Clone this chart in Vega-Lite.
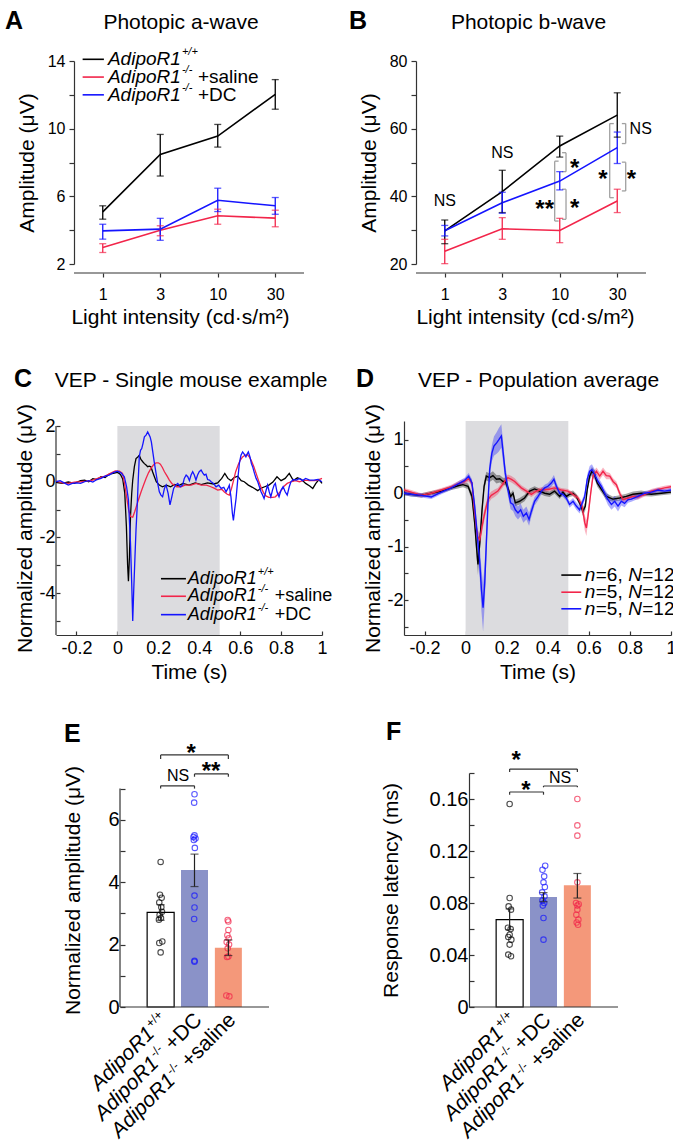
{
  "$schema": "https://vega.github.io/schema/vega-lite/v6.json",
  "padding": 0,
  "autosize": {"type": "pad"},
  "columns": 2,
  "align": "each",
  "spacing": 0,
  "config": {
    "font": "Liberation Sans",
    "view": {"stroke": null},
    "text": {"font": "Liberation Sans", "color": "#000"},
    "axis": {"grid": false, "domainColor": "#333", "tickColor": "#333", "domainWidth": 1.2, "tickWidth": 1.2, "labelColor": "#000", "titleColor": "#000", "labelFont": "Liberation Sans", "titleFont": "Liberation Sans", "titleFontWeight": "normal", "labelFlush": false, "labelOverlap": false}
  },
  "datasets": {
    "aLines": [
      {"g": "wt", "x": 0, "y": 5.08, "lo": 4.65, "hi": 5.44},
      {"g": "wt", "x": 1, "y": 8.48, "lo": 7.2, "hi": 9.66},
      {"g": "wt", "x": 2, "y": 9.56, "lo": 8.91, "hi": 10.25},
      {"g": "wt", "x": 3, "y": 12.03, "lo": 11.15, "hi": 12.9},
      {"g": "sal", "x": 0, "y": 2.98, "lo": 2.68, "hi": 3.2},
      {"g": "sal", "x": 1, "y": 4.0, "lo": 3.67, "hi": 4.26},
      {"g": "sal", "x": 2, "y": 4.85, "lo": 4.35, "hi": 5.24},
      {"g": "sal", "x": 3, "y": 4.71, "lo": 4.2, "hi": 5.18},
      {"g": "dc", "x": 0, "y": 3.96, "lo": 3.47, "hi": 4.35},
      {"g": "dc", "x": 1, "y": 4.06, "lo": 3.4, "hi": 4.7},
      {"g": "dc", "x": 2, "y": 5.77, "lo": 5.1, "hi": 6.48},
      {"g": "dc", "x": 3, "y": 5.44, "lo": 4.94, "hi": 5.93}
    ],
    "bLines": [
      {"g": "wt", "x": 0, "y": 29.8, "lo": 26.0, "hi": 33.0},
      {"g": "wt", "x": 1, "y": 41.4, "lo": 35.2, "hi": 47.7},
      {"g": "wt", "x": 2, "y": 54.9, "lo": 51.6, "hi": 57.8},
      {"g": "wt", "x": 3, "y": 64.0, "lo": 57.5, "hi": 70.6},
      {"g": "sal", "x": 0, "y": 23.8, "lo": 20.1, "hi": 27.3},
      {"g": "sal", "x": 1, "y": 30.4, "lo": 27.3, "hi": 33.7},
      {"g": "sal", "x": 2, "y": 29.9, "lo": 26.3, "hi": 33.5},
      {"g": "sal", "x": 3, "y": 38.6, "lo": 35.2, "hi": 42.1},
      {"g": "dc", "x": 0, "y": 29.8, "lo": 28.3, "hi": 31.4},
      {"g": "dc", "x": 1, "y": 38.1, "lo": 35.0, "hi": 41.2},
      {"g": "dc", "x": 2, "y": 44.5, "lo": 41.9, "hi": 47.3},
      {"g": "dc", "x": 3, "y": 54.4, "lo": 49.7, "hi": 59.0}
    ],
    "aLegend": [
      {"g": "wt", "x": -0.35, "x2": 0.02, "tx": 0.09, "y": 14.1, "name": "AdipoR1", "sup": "+/+", "suf": ""},
      {"g": "sal", "x": -0.35, "x2": 0.02, "tx": 0.09, "y": 13.05, "name": "AdipoR1", "sup": "-/-", "suf": "+saline"},
      {"g": "dc", "x": -0.35, "x2": 0.02, "tx": 0.09, "y": 12.0, "name": "AdipoR1", "sup": "-/-", "suf": "+DC"}
    ],
    "bBrackets": [
      {"x": 1.912, "xe": 1.98, "lo": 32.7, "hi": 50.4},
      {"x": 2.109, "xe": 2.04, "lo": 47.3, "hi": 52.9},
      {"x": 2.109, "xe": 2.04, "lo": 33.2, "hi": 42.1},
      {"x": 2.869, "xe": 2.94, "lo": 39.6, "hi": 61.5},
      {"x": 3.147, "xe": 3.08, "lo": 55.6, "hi": 61.5},
      {"x": 3.147, "xe": 3.08, "lo": 41.6, "hi": 50.1}
    ],
    "bNS": [
      {"x": 0, "y": 38.6, "t": "NS"},
      {"x": 1, "y": 52.9, "t": "NS"},
      {"x": 3.408, "y": 59.8, "t": "NS"}
    ],
    "bStars": [
      {"x": 1.738, "y": 37.6, "t": "**"},
      {"x": 2.26, "y": 49.95, "t": "*"},
      {"x": 2.26, "y": 38.1, "t": "*"},
      {"x": 2.752, "y": 46.5, "t": "*"},
      {"x": 3.245, "y": 46.5, "t": "*"}
    ],
    "cLegend": [
      {"g": "wt", "t": 0.213, "t2": 0.335, "tx": 0.344, "v": -3.48, "name": "AdipoR1", "sup": "+/+", "suf": ""},
      {"g": "sal", "t": 0.213, "t2": 0.335, "tx": 0.344, "v": -4.11, "name": "AdipoR1", "sup": "-/-", "suf": "+saline"},
      {"g": "dc", "t": 0.213, "t2": 0.335, "tx": 0.344, "v": -4.77, "name": "AdipoR1", "sup": "-/-", "suf": "+DC"}
    ],
    "dLegend": [
      {"g": "wt", "t": 0.466, "t2": 0.563, "tx": 0.58, "v": -1.53, "a": "n", "b": "=6,", "c": "N", "d": "=12"},
      {"g": "sal", "t": 0.466, "t2": 0.563, "tx": 0.58, "v": -1.85, "a": "n", "b": "=5,", "c": "N", "d": "=12"},
      {"g": "dc", "t": 0.466, "t2": 0.563, "tx": 0.58, "v": -2.16, "a": "n", "b": "=5,", "c": "N", "d": "=12"}
    ],
    "cTraces": [
      {"g": "wt", "t": -0.3, "v": -0.02}, {"g": "wt", "t": -0.27, "v": -0.06}, {"g": "wt", "t": -0.24, "v": -0.01}, {"g": "wt", "t": -0.21, "v": -0.06},
      {"g": "wt", "t": -0.18, "v": 0.04}, {"g": "wt", "t": -0.16, "v": 0.06}, {"g": "wt", "t": -0.14, "v": 0.0}, {"g": "wt", "t": -0.12, "v": 0.11},
      {"g": "wt", "t": -0.1, "v": 0.08}, {"g": "wt", "t": -0.08, "v": 0.18}, {"g": "wt", "t": -0.06, "v": 0.15}, {"g": "wt", "t": -0.04, "v": 0.27},
      {"g": "wt", "t": -0.02, "v": 0.3}, {"g": "wt", "t": 0.0, "v": 0.34}, {"g": "wt", "t": 0.015, "v": 0.26}, {"g": "wt", "t": 0.026, "v": 0.1},
      {"g": "wt", "t": 0.036, "v": -0.4}, {"g": "wt", "t": 0.044, "v": -1.6}, {"g": "wt", "t": 0.05, "v": -3.0}, {"g": "wt", "t": 0.054, "v": -3.57},
      {"g": "wt", "t": 0.059, "v": -2.68}, {"g": "wt", "t": 0.064, "v": -1.25}, {"g": "wt", "t": 0.07, "v": -0.42}, {"g": "wt", "t": 0.075, "v": 0.06},
      {"g": "wt", "t": 0.083, "v": 0.54}, {"g": "wt", "t": 0.091, "v": 0.83}, {"g": "wt", "t": 0.1, "v": 0.89}, {"g": "wt", "t": 0.107, "v": 0.95},
      {"g": "wt", "t": 0.115, "v": 0.8}, {"g": "wt", "t": 0.125, "v": 0.71}, {"g": "wt", "t": 0.132, "v": 0.65}, {"g": "wt", "t": 0.14, "v": 0.6},
      {"g": "wt", "t": 0.148, "v": 0.54}, {"g": "wt", "t": 0.156, "v": 0.56}, {"g": "wt", "t": 0.164, "v": 0.54}, {"g": "wt", "t": 0.172, "v": 0.36},
      {"g": "wt", "t": 0.18, "v": 0.2}, {"g": "wt", "t": 0.19, "v": 0.0}, {"g": "wt", "t": 0.205, "v": -0.12}, {"g": "wt", "t": 0.22, "v": -0.18},
      {"g": "wt", "t": 0.24, "v": -0.12}, {"g": "wt", "t": 0.26, "v": -0.18}, {"g": "wt", "t": 0.28, "v": -0.1}, {"g": "wt", "t": 0.3, "v": -0.14},
      {"g": "wt", "t": 0.32, "v": -0.06}, {"g": "wt", "t": 0.35, "v": -0.12}, {"g": "wt", "t": 0.38, "v": -0.04}, {"g": "wt", "t": 0.41, "v": -0.1},
      {"g": "wt", "t": 0.44, "v": -0.04}, {"g": "wt", "t": 0.47, "v": -0.08}, {"g": "wt", "t": 0.49, "v": -0.04}, {"g": "wt", "t": 0.51, "v": 0.12},
      {"g": "wt", "t": 0.525, "v": 0.3}, {"g": "wt", "t": 0.54, "v": 0.12}, {"g": "wt", "t": 0.555, "v": 0.04}, {"g": "wt", "t": 0.57, "v": 0.15},
      {"g": "wt", "t": 0.588, "v": 0.2}, {"g": "wt", "t": 0.605, "v": 0.04}, {"g": "wt", "t": 0.62, "v": 0.0}, {"g": "wt", "t": 0.64, "v": -0.12},
      {"g": "wt", "t": 0.66, "v": -0.2}, {"g": "wt", "t": 0.686, "v": -0.32}, {"g": "wt", "t": 0.7, "v": -0.24}, {"g": "wt", "t": 0.72, "v": -0.18},
      {"g": "wt", "t": 0.74, "v": -0.12}, {"g": "wt", "t": 0.76, "v": -0.01}, {"g": "wt", "t": 0.78, "v": 0.18}, {"g": "wt", "t": 0.8, "v": 0.04},
      {"g": "wt", "t": 0.82, "v": 0.12}, {"g": "wt", "t": 0.84, "v": 0.3}, {"g": "wt", "t": 0.86, "v": 0.04}, {"g": "wt", "t": 0.88, "v": 0.14},
      {"g": "wt", "t": 0.9, "v": 0.08}, {"g": "wt", "t": 0.92, "v": -0.06}, {"g": "wt", "t": 0.94, "v": -0.15}, {"g": "wt", "t": 0.955, "v": -0.24},
      {"g": "wt", "t": 0.97, "v": -0.06}, {"g": "wt", "t": 0.985, "v": 0.08}, {"g": "wt", "t": 1.0, "v": -0.06},
      {"g": "sal", "t": -0.3, "v": 0.02}, {"g": "sal", "t": -0.27, "v": -0.04}, {"g": "sal", "t": -0.24, "v": -0.06}, {"g": "sal", "t": -0.21, "v": -0.01},
      {"g": "sal", "t": -0.18, "v": 0.0}, {"g": "sal", "t": -0.15, "v": 0.02}, {"g": "sal", "t": -0.12, "v": 0.06}, {"g": "sal", "t": -0.09, "v": 0.14},
      {"g": "sal", "t": -0.06, "v": 0.2}, {"g": "sal", "t": -0.03, "v": 0.32}, {"g": "sal", "t": -0.01, "v": 0.39}, {"g": "sal", "t": 0.01, "v": 0.38},
      {"g": "sal", "t": 0.025, "v": 0.3}, {"g": "sal", "t": 0.035, "v": -0.06}, {"g": "sal", "t": 0.045, "v": -0.54}, {"g": "sal", "t": 0.055, "v": -1.01},
      {"g": "sal", "t": 0.064, "v": -1.25}, {"g": "sal", "t": 0.075, "v": -1.27}, {"g": "sal", "t": 0.085, "v": -1.07}, {"g": "sal", "t": 0.095, "v": -0.83},
      {"g": "sal", "t": 0.105, "v": -0.6}, {"g": "sal", "t": 0.116, "v": -0.36}, {"g": "sal", "t": 0.128, "v": -0.12}, {"g": "sal", "t": 0.14, "v": 0.12},
      {"g": "sal", "t": 0.152, "v": 0.32}, {"g": "sal", "t": 0.164, "v": 0.48}, {"g": "sal", "t": 0.176, "v": 0.6}, {"g": "sal", "t": 0.189, "v": 0.68},
      {"g": "sal", "t": 0.2, "v": 0.68}, {"g": "sal", "t": 0.21, "v": 0.63}, {"g": "sal", "t": 0.22, "v": 0.51}, {"g": "sal", "t": 0.23, "v": 0.36},
      {"g": "sal", "t": 0.243, "v": 0.2}, {"g": "sal", "t": 0.254, "v": 0.06}, {"g": "sal", "t": 0.266, "v": -0.06}, {"g": "sal", "t": 0.278, "v": -0.12},
      {"g": "sal", "t": 0.29, "v": -0.18}, {"g": "sal", "t": 0.311, "v": -0.18}, {"g": "sal", "t": 0.33, "v": -0.12}, {"g": "sal", "t": 0.36, "v": -0.12},
      {"g": "sal", "t": 0.385, "v": -0.06}, {"g": "sal", "t": 0.41, "v": -0.12}, {"g": "sal", "t": 0.435, "v": -0.12}, {"g": "sal", "t": 0.457, "v": -0.18},
      {"g": "sal", "t": 0.475, "v": -0.24}, {"g": "sal", "t": 0.49, "v": -0.3}, {"g": "sal", "t": 0.51, "v": -0.27}, {"g": "sal", "t": 0.523, "v": -0.37},
      {"g": "sal", "t": 0.537, "v": -0.45}, {"g": "sal", "t": 0.547, "v": -0.48}, {"g": "sal", "t": 0.558, "v": -0.24}, {"g": "sal", "t": 0.568, "v": 0.06},
      {"g": "sal", "t": 0.578, "v": 0.36}, {"g": "sal", "t": 0.59, "v": 0.6}, {"g": "sal", "t": 0.6, "v": 0.77}, {"g": "sal", "t": 0.612, "v": 0.89},
      {"g": "sal", "t": 0.623, "v": 0.95}, {"g": "sal", "t": 0.634, "v": 0.98}, {"g": "sal", "t": 0.645, "v": 0.89}, {"g": "sal", "t": 0.655, "v": 0.75},
      {"g": "sal", "t": 0.667, "v": 0.54}, {"g": "sal", "t": 0.678, "v": 0.3}, {"g": "sal", "t": 0.69, "v": 0.04}, {"g": "sal", "t": 0.702, "v": -0.2},
      {"g": "sal", "t": 0.714, "v": -0.39}, {"g": "sal", "t": 0.726, "v": -0.51}, {"g": "sal", "t": 0.74, "v": -0.56}, {"g": "sal", "t": 0.759, "v": -0.56},
      {"g": "sal", "t": 0.772, "v": -0.54}, {"g": "sal", "t": 0.783, "v": -0.46}, {"g": "sal", "t": 0.8, "v": -0.32}, {"g": "sal", "t": 0.816, "v": -0.15},
      {"g": "sal", "t": 0.83, "v": -0.06}, {"g": "sal", "t": 0.848, "v": 0.0}, {"g": "sal", "t": 0.87, "v": 0.04}, {"g": "sal", "t": 0.89, "v": 0.0},
      {"g": "sal", "t": 0.914, "v": 0.06}, {"g": "sal", "t": 0.94, "v": 0.04}, {"g": "sal", "t": 0.963, "v": 0.04}, {"g": "sal", "t": 0.98, "v": 0.06},
      {"g": "sal", "t": 1.0, "v": 0.12},
      {"g": "dc", "t": -0.3, "v": 0.0}, {"g": "dc", "t": -0.28, "v": 0.04}, {"g": "dc", "t": -0.26, "v": -0.04}, {"g": "dc", "t": -0.24, "v": -0.12},
      {"g": "dc", "t": -0.22, "v": -0.06}, {"g": "dc", "t": -0.2, "v": -0.04}, {"g": "dc", "t": -0.18, "v": -0.06}, {"g": "dc", "t": -0.16, "v": 0.0},
      {"g": "dc", "t": -0.14, "v": 0.04}, {"g": "dc", "t": -0.12, "v": -0.01}, {"g": "dc", "t": -0.1, "v": 0.08}, {"g": "dc", "t": -0.08, "v": 0.12},
      {"g": "dc", "t": -0.06, "v": 0.2}, {"g": "dc", "t": -0.04, "v": 0.24}, {"g": "dc", "t": -0.02, "v": 0.33}, {"g": "dc", "t": 0.0, "v": 0.38},
      {"g": "dc", "t": 0.018, "v": 0.32}, {"g": "dc", "t": 0.034, "v": 0.18}, {"g": "dc", "t": 0.045, "v": -0.18}, {"g": "dc", "t": 0.054, "v": -0.65},
      {"g": "dc", "t": 0.064, "v": -2.2}, {"g": "dc", "t": 0.07, "v": -3.63}, {"g": "dc", "t": 0.075, "v": -5.0}, {"g": "dc", "t": 0.08, "v": -3.87},
      {"g": "dc", "t": 0.086, "v": -2.68}, {"g": "dc", "t": 0.091, "v": -1.73}, {"g": "dc", "t": 0.096, "v": -1.01}, {"g": "dc", "t": 0.102, "v": 0.06},
      {"g": "dc", "t": 0.107, "v": 0.89}, {"g": "dc", "t": 0.113, "v": 1.13}, {"g": "dc", "t": 0.119, "v": 1.19}, {"g": "dc", "t": 0.125, "v": 1.37},
      {"g": "dc", "t": 0.132, "v": 1.61}, {"g": "dc", "t": 0.14, "v": 1.67}, {"g": "dc", "t": 0.148, "v": 1.79}, {"g": "dc", "t": 0.154, "v": 1.7},
      {"g": "dc", "t": 0.16, "v": 1.61}, {"g": "dc", "t": 0.166, "v": 1.43}, {"g": "dc", "t": 0.173, "v": 1.07}, {"g": "dc", "t": 0.18, "v": 0.71},
      {"g": "dc", "t": 0.189, "v": 0.3}, {"g": "dc", "t": 0.197, "v": -0.06}, {"g": "dc", "t": 0.205, "v": -0.36}, {"g": "dc", "t": 0.213, "v": -0.48},
      {"g": "dc", "t": 0.221, "v": -0.54}, {"g": "dc", "t": 0.23, "v": -0.24}, {"g": "dc", "t": 0.238, "v": -0.12}, {"g": "dc", "t": 0.248, "v": -0.42},
      {"g": "dc", "t": 0.257, "v": -0.83}, {"g": "dc", "t": 0.266, "v": -0.54}, {"g": "dc", "t": 0.275, "v": -0.24}, {"g": "dc", "t": 0.285, "v": -0.12},
      {"g": "dc", "t": 0.295, "v": -0.06}, {"g": "dc", "t": 0.307, "v": -0.18}, {"g": "dc", "t": 0.319, "v": -0.12}, {"g": "dc", "t": 0.327, "v": 0.12},
      {"g": "dc", "t": 0.336, "v": 0.24}, {"g": "dc", "t": 0.344, "v": 0.18}, {"g": "dc", "t": 0.352, "v": 0.04}, {"g": "dc", "t": 0.36, "v": 0.24},
      {"g": "dc", "t": 0.368, "v": 0.36}, {"g": "dc", "t": 0.376, "v": 0.24}, {"g": "dc", "t": 0.384, "v": 0.06}, {"g": "dc", "t": 0.392, "v": 0.24},
      {"g": "dc", "t": 0.4, "v": 0.36}, {"g": "dc", "t": 0.409, "v": 0.42}, {"g": "dc", "t": 0.417, "v": 0.32}, {"g": "dc", "t": 0.425, "v": 0.24},
      {"g": "dc", "t": 0.433, "v": 0.27}, {"g": "dc", "t": 0.441, "v": 0.08}, {"g": "dc", "t": 0.45, "v": 0.06}, {"g": "dc", "t": 0.458, "v": 0.0},
      {"g": "dc", "t": 0.47, "v": -0.06}, {"g": "dc", "t": 0.482, "v": -0.18}, {"g": "dc", "t": 0.495, "v": -0.12}, {"g": "dc", "t": 0.507, "v": -0.24},
      {"g": "dc", "t": 0.52, "v": -0.2}, {"g": "dc", "t": 0.531, "v": -0.36}, {"g": "dc", "t": 0.54, "v": -0.24}, {"g": "dc", "t": 0.547, "v": -0.12},
      {"g": "dc", "t": 0.555, "v": -0.54}, {"g": "dc", "t": 0.562, "v": -1.13}, {"g": "dc", "t": 0.567, "v": -1.39}, {"g": "dc", "t": 0.573, "v": -1.01},
      {"g": "dc", "t": 0.58, "v": -0.6}, {"g": "dc", "t": 0.588, "v": 0.06}, {"g": "dc", "t": 0.596, "v": 0.65}, {"g": "dc", "t": 0.604, "v": 0.95},
      {"g": "dc", "t": 0.612, "v": 1.07}, {"g": "dc", "t": 0.62, "v": 0.99}, {"g": "dc", "t": 0.628, "v": 0.89}, {"g": "dc", "t": 0.634, "v": 0.99},
      {"g": "dc", "t": 0.64, "v": 1.07}, {"g": "dc", "t": 0.648, "v": 0.89}, {"g": "dc", "t": 0.655, "v": 0.65}, {"g": "dc", "t": 0.661, "v": 0.54},
      {"g": "dc", "t": 0.67, "v": 0.3}, {"g": "dc", "t": 0.678, "v": 0.12}, {"g": "dc", "t": 0.686, "v": 0.0}, {"g": "dc", "t": 0.694, "v": -0.18},
      {"g": "dc", "t": 0.702, "v": -0.36}, {"g": "dc", "t": 0.71, "v": -0.48}, {"g": "dc", "t": 0.717, "v": -0.6}, {"g": "dc", "t": 0.725, "v": -0.36},
      {"g": "dc", "t": 0.734, "v": -0.12}, {"g": "dc", "t": 0.742, "v": -0.36}, {"g": "dc", "t": 0.75, "v": -0.54}, {"g": "dc", "t": 0.758, "v": -0.3},
      {"g": "dc", "t": 0.766, "v": -0.12}, {"g": "dc", "t": 0.772, "v": -0.06}, {"g": "dc", "t": 0.78, "v": -0.36}, {"g": "dc", "t": 0.79, "v": -0.54},
      {"g": "dc", "t": 0.8, "v": -0.3}, {"g": "dc", "t": 0.81, "v": -0.18}, {"g": "dc", "t": 0.82, "v": -0.36}, {"g": "dc", "t": 0.83, "v": -0.48},
      {"g": "dc", "t": 0.84, "v": -0.18}, {"g": "dc", "t": 0.848, "v": 0.0}, {"g": "dc", "t": 0.86, "v": 0.08}, {"g": "dc", "t": 0.875, "v": 0.06},
      {"g": "dc", "t": 0.89, "v": 0.12}, {"g": "dc", "t": 0.905, "v": 0.04}, {"g": "dc", "t": 0.92, "v": 0.12}, {"g": "dc", "t": 0.94, "v": 0.06},
      {"g": "dc", "t": 0.96, "v": 0.06}, {"g": "dc", "t": 0.98, "v": 0.08}, {"g": "dc", "t": 1.0, "v": 0.0}
    ],
    "dTraces": [
      {"g": "wt", "t": -0.3, "v": 0, "lo": -0.04, "hi": 0.04}, {"g": "wt", "t": -0.265, "v": -0.02, "lo": -0.06, "hi": 0.02},
      {"g": "wt", "t": -0.216, "v": -0.04, "lo": -0.08, "hi": 0}, {"g": "wt", "t": -0.167, "v": 0, "lo": -0.04, "hi": 0.04},
      {"g": "wt", "t": -0.118, "v": 0.04, "lo": 0, "hi": 0.08}, {"g": "wt", "t": -0.07, "v": 0.1, "lo": 0.06, "hi": 0.14},
      {"g": "wt", "t": -0.037, "v": 0.14, "lo": 0.09, "hi": 0.19}, {"g": "wt", "t": -0.013, "v": 0.16, "lo": 0.11, "hi": 0.21},
      {"g": "wt", "t": 0.012, "v": 0.13, "lo": 0.08, "hi": 0.18}, {"g": "wt", "t": 0.031, "v": -0.06, "lo": -0.14, "hi": 0.02},
      {"g": "wt", "t": 0.044, "v": -0.55, "lo": -0.67, "hi": -0.43}, {"g": "wt", "t": 0.054, "v": -1.05, "lo": -1.23, "hi": -0.87},
      {"g": "wt", "t": 0.06, "v": -1.33, "lo": -1.53, "hi": -1.13}, {"g": "wt", "t": 0.069, "v": -0.93, "lo": -1.11, "hi": -0.75},
      {"g": "wt", "t": 0.08, "v": -0.31, "lo": -0.43, "hi": -0.19}, {"g": "wt", "t": 0.09, "v": 0.13, "lo": 0.03, "hi": 0.23},
      {"g": "wt", "t": 0.101, "v": 0.32, "lo": 0.24, "hi": 0.4}, {"g": "wt", "t": 0.117, "v": 0.29, "lo": 0.21, "hi": 0.37},
      {"g": "wt", "t": 0.133, "v": 0.33, "lo": 0.25, "hi": 0.41}, {"g": "wt", "t": 0.15, "v": 0.26, "lo": 0.18, "hi": 0.34},
      {"g": "wt", "t": 0.166, "v": 0.27, "lo": 0.2, "hi": 0.34}, {"g": "wt", "t": 0.182, "v": 0.22, "lo": 0.15, "hi": 0.29},
      {"g": "wt", "t": 0.193, "v": 0.22, "lo": 0.15, "hi": 0.29}, {"g": "wt", "t": 0.206, "v": 0.1, "lo": 0.03, "hi": 0.17},
      {"g": "wt", "t": 0.219, "v": -0.06, "lo": -0.12, "hi": 0}, {"g": "wt", "t": 0.231, "v": 0, "lo": -0.06, "hi": 0.06},
      {"g": "wt", "t": 0.242, "v": -0.18, "lo": -0.24, "hi": -0.12}, {"g": "wt", "t": 0.263, "v": -0.15, "lo": -0.21, "hi": -0.09},
      {"g": "wt", "t": 0.287, "v": -0.09, "lo": -0.15, "hi": -0.03}, {"g": "wt", "t": 0.312, "v": 0.04, "lo": -0.01, "hi": 0.09},
      {"g": "wt", "t": 0.336, "v": 0.08, "lo": 0.03, "hi": 0.13}, {"g": "wt", "t": 0.36, "v": 0.04, "lo": -0.01, "hi": 0.09},
      {"g": "wt", "t": 0.385, "v": 0, "lo": -0.05, "hi": 0.05}, {"g": "wt", "t": 0.409, "v": -0.02, "lo": -0.07, "hi": 0.03},
      {"g": "wt", "t": 0.433, "v": 0.04, "lo": -0.01, "hi": 0.09}, {"g": "wt", "t": 0.458, "v": -0.06, "lo": -0.11, "hi": -0.01},
      {"g": "wt", "t": 0.474, "v": 0.02, "lo": -0.03, "hi": 0.07}, {"g": "wt", "t": 0.49, "v": -0.06, "lo": -0.11, "hi": -0.01},
      {"g": "wt", "t": 0.506, "v": -0.02, "lo": -0.07, "hi": 0.03}, {"g": "wt", "t": 0.523, "v": 0, "lo": -0.05, "hi": 0.05},
      {"g": "wt", "t": 0.539, "v": -0.06, "lo": -0.11, "hi": -0.01}, {"g": "wt", "t": 0.555, "v": -0.18, "lo": -0.24, "hi": -0.12},
      {"g": "wt", "t": 0.571, "v": -0.34, "lo": -0.42, "hi": -0.26}, {"g": "wt", "t": 0.583, "v": -0.24, "lo": -0.32, "hi": -0.16},
      {"g": "wt", "t": 0.592, "v": 0.07, "lo": -0.01, "hi": 0.15}, {"g": "wt", "t": 0.604, "v": 0.32, "lo": 0.24, "hi": 0.4},
      {"g": "wt", "t": 0.615, "v": 0.41, "lo": 0.33, "hi": 0.49}, {"g": "wt", "t": 0.628, "v": 0.35, "lo": 0.27, "hi": 0.43},
      {"g": "wt", "t": 0.641, "v": 0.19, "lo": 0.12, "hi": 0.26}, {"g": "wt", "t": 0.661, "v": 0.07, "lo": 0.01, "hi": 0.13},
      {"g": "wt", "t": 0.685, "v": -0.06, "lo": -0.12, "hi": 0}, {"g": "wt", "t": 0.717, "v": -0.11, "lo": -0.16, "hi": -0.06},
      {"g": "wt", "t": 0.75, "v": -0.09, "lo": -0.14, "hi": -0.04}, {"g": "wt", "t": 0.782, "v": -0.06, "lo": -0.11, "hi": -0.01},
      {"g": "wt", "t": 0.815, "v": -0.02, "lo": -0.07, "hi": 0.03}, {"g": "wt", "t": 0.855, "v": 0, "lo": -0.05, "hi": 0.05},
      {"g": "wt", "t": 0.904, "v": -0.02, "lo": -0.06, "hi": 0.02}, {"g": "wt", "t": 0.953, "v": 0, "lo": -0.04, "hi": 0.04},
      {"g": "wt", "t": 1.0, "v": 0.02, "lo": -0.02, "hi": 0.06},
      {"g": "sal", "t": -0.3, "v": 0.06, "lo": 0.02, "hi": 0.1}, {"g": "sal", "t": -0.265, "v": 0.02, "lo": -0.02, "hi": 0.06},
      {"g": "sal", "t": -0.216, "v": -0.04, "lo": -0.08, "hi": 0}, {"g": "sal", "t": -0.167, "v": 0, "lo": -0.04, "hi": 0.04},
      {"g": "sal", "t": -0.118, "v": 0.06, "lo": 0.02, "hi": 0.1}, {"g": "sal", "t": -0.07, "v": 0.12, "lo": 0.08, "hi": 0.16},
      {"g": "sal", "t": -0.029, "v": 0.19, "lo": 0.14, "hi": 0.24}, {"g": "sal", "t": -0.005, "v": 0.22, "lo": 0.17, "hi": 0.27},
      {"g": "sal", "t": 0.015, "v": 0.27, "lo": 0.22, "hi": 0.32}, {"g": "sal", "t": 0.031, "v": 0.19, "lo": 0.13, "hi": 0.25},
      {"g": "sal", "t": 0.044, "v": -0.37, "lo": -0.47, "hi": -0.27}, {"g": "sal", "t": 0.057, "v": -0.8, "lo": -0.92, "hi": -0.68},
      {"g": "sal", "t": 0.069, "v": -0.87, "lo": -0.99, "hi": -0.75}, {"g": "sal", "t": 0.08, "v": -0.62, "lo": -0.74, "hi": -0.5},
      {"g": "sal", "t": 0.093, "v": -0.37, "lo": -0.47, "hi": -0.27}, {"g": "sal", "t": 0.109, "v": -0.12, "lo": -0.2, "hi": -0.04},
      {"g": "sal", "t": 0.125, "v": -0.04, "lo": -0.11, "hi": 0.03}, {"g": "sal", "t": 0.141, "v": 0, "lo": -0.07, "hi": 0.07},
      {"g": "sal", "t": 0.157, "v": 0.04, "lo": -0.02, "hi": 0.1}, {"g": "sal", "t": 0.174, "v": 0.13, "lo": 0.07, "hi": 0.19},
      {"g": "sal", "t": 0.19, "v": 0.22, "lo": 0.16, "hi": 0.28}, {"g": "sal", "t": 0.206, "v": 0.29, "lo": 0.23, "hi": 0.35},
      {"g": "sal", "t": 0.223, "v": 0.26, "lo": 0.2, "hi": 0.32}, {"g": "sal", "t": 0.239, "v": 0.22, "lo": 0.16, "hi": 0.28},
      {"g": "sal", "t": 0.255, "v": 0.16, "lo": 0.11, "hi": 0.21}, {"g": "sal", "t": 0.271, "v": 0.1, "lo": 0.05, "hi": 0.15},
      {"g": "sal", "t": 0.296, "v": 0.04, "lo": -0.01, "hi": 0.09}, {"g": "sal", "t": 0.32, "v": -0.02, "lo": -0.07, "hi": 0.03},
      {"g": "sal", "t": 0.344, "v": 0.04, "lo": -0.01, "hi": 0.09}, {"g": "sal", "t": 0.369, "v": 0.07, "lo": 0.03, "hi": 0.11},
      {"g": "sal", "t": 0.401, "v": 0.07, "lo": 0.03, "hi": 0.11}, {"g": "sal", "t": 0.433, "v": 0.1, "lo": 0.06, "hi": 0.14},
      {"g": "sal", "t": 0.466, "v": 0.06, "lo": 0.02, "hi": 0.1}, {"g": "sal", "t": 0.498, "v": 0.04, "lo": 0, "hi": 0.08},
      {"g": "sal", "t": 0.523, "v": -0.02, "lo": -0.06, "hi": 0.02}, {"g": "sal", "t": 0.547, "v": -0.09, "lo": -0.14, "hi": -0.04},
      {"g": "sal", "t": 0.567, "v": -0.24, "lo": -0.32, "hi": -0.16}, {"g": "sal", "t": 0.58, "v": -0.55, "lo": -0.69, "hi": -0.41},
      {"g": "sal", "t": 0.588, "v": -0.65, "lo": -0.8, "hi": -0.5}, {"g": "sal", "t": 0.596, "v": -0.43, "lo": -0.55, "hi": -0.31},
      {"g": "sal", "t": 0.609, "v": 0, "lo": -0.08, "hi": 0.08}, {"g": "sal", "t": 0.62, "v": 0.32, "lo": 0.25, "hi": 0.39},
      {"g": "sal", "t": 0.637, "v": 0.41, "lo": 0.34, "hi": 0.48}, {"g": "sal", "t": 0.653, "v": 0.32, "lo": 0.25, "hi": 0.39},
      {"g": "sal", "t": 0.669, "v": 0.41, "lo": 0.34, "hi": 0.48}, {"g": "sal", "t": 0.685, "v": 0.33, "lo": 0.26, "hi": 0.4},
      {"g": "sal", "t": 0.702, "v": 0.32, "lo": 0.26, "hi": 0.38}, {"g": "sal", "t": 0.718, "v": 0.22, "lo": 0.16, "hi": 0.28},
      {"g": "sal", "t": 0.734, "v": 0.16, "lo": 0.1, "hi": 0.22}, {"g": "sal", "t": 0.75, "v": 0, "lo": -0.06, "hi": 0.06},
      {"g": "sal", "t": 0.766, "v": -0.12, "lo": -0.18, "hi": -0.06}, {"g": "sal", "t": 0.791, "v": -0.09, "lo": -0.14, "hi": -0.04},
      {"g": "sal", "t": 0.815, "v": -0.06, "lo": -0.11, "hi": -0.01}, {"g": "sal", "t": 0.839, "v": -0.07, "lo": -0.12, "hi": -0.02},
      {"g": "sal", "t": 0.872, "v": -0.02, "lo": -0.06, "hi": 0.02}, {"g": "sal", "t": 0.904, "v": 0.04, "lo": 0, "hi": 0.08},
      {"g": "sal", "t": 0.937, "v": 0.07, "lo": 0.03, "hi": 0.11}, {"g": "sal", "t": 0.969, "v": 0.1, "lo": 0.06, "hi": 0.14},
      {"g": "sal", "t": 1.0, "v": 0.12, "lo": 0.08, "hi": 0.16},
      {"g": "dc", "t": -0.3, "v": 0, "lo": -0.04, "hi": 0.04}, {"g": "dc", "t": -0.265, "v": -0.02, "lo": -0.06, "hi": 0.02},
      {"g": "dc", "t": -0.216, "v": -0.04, "lo": -0.08, "hi": 0}, {"g": "dc", "t": -0.167, "v": -0.07, "lo": -0.11, "hi": -0.03},
      {"g": "dc", "t": -0.118, "v": 0.02, "lo": -0.02, "hi": 0.06}, {"g": "dc", "t": -0.07, "v": 0.1, "lo": 0.06, "hi": 0.14},
      {"g": "dc", "t": -0.029, "v": 0.19, "lo": 0.14, "hi": 0.24}, {"g": "dc", "t": -0.005, "v": 0.24, "lo": 0.19, "hi": 0.29},
      {"g": "dc", "t": 0.015, "v": 0.32, "lo": 0.26, "hi": 0.38}, {"g": "dc", "t": 0.031, "v": 0.19, "lo": 0.12, "hi": 0.26},
      {"g": "dc", "t": 0.044, "v": -0.24, "lo": -0.36, "hi": -0.12}, {"g": "dc", "t": 0.057, "v": -0.8, "lo": -1.0, "hi": -0.6},
      {"g": "dc", "t": 0.069, "v": -1.3, "lo": -1.6, "hi": -1.0}, {"g": "dc", "t": 0.077, "v": -1.8, "lo": -2.2, "hi": -1.4},
      {"g": "dc", "t": 0.085, "v": -2.14, "lo": -2.59, "hi": -1.69}, {"g": "dc", "t": 0.093, "v": -1.68, "lo": -2.08, "hi": -1.28},
      {"g": "dc", "t": 0.101, "v": -0.93, "lo": -1.23, "hi": -0.63}, {"g": "dc", "t": 0.109, "v": -0.18, "lo": -0.38, "hi": 0.02},
      {"g": "dc", "t": 0.117, "v": 0.44, "lo": 0.29, "hi": 0.59}, {"g": "dc", "t": 0.128, "v": 0.75, "lo": 0.6, "hi": 0.9},
      {"g": "dc", "t": 0.138, "v": 0.88, "lo": 0.7, "hi": 1.06}, {"g": "dc", "t": 0.151, "v": 0.94, "lo": 0.74, "hi": 1.14},
      {"g": "dc", "t": 0.162, "v": 1.0, "lo": 0.78, "hi": 1.22}, {"g": "dc", "t": 0.174, "v": 1.07, "lo": 0.85, "hi": 1.29},
      {"g": "dc", "t": 0.183, "v": 0.75, "lo": 0.55, "hi": 0.95}, {"g": "dc", "t": 0.193, "v": 0.38, "lo": 0.23, "hi": 0.53},
      {"g": "dc", "t": 0.206, "v": 0.07, "lo": -0.05, "hi": 0.19}, {"g": "dc", "t": 0.219, "v": -0.18, "lo": -0.3, "hi": -0.06},
      {"g": "dc", "t": 0.231, "v": -0.21, "lo": -0.33, "hi": -0.09}, {"g": "dc", "t": 0.242, "v": -0.31, "lo": -0.43, "hi": -0.19},
      {"g": "dc", "t": 0.255, "v": -0.37, "lo": -0.49, "hi": -0.25}, {"g": "dc", "t": 0.268, "v": -0.31, "lo": -0.43, "hi": -0.19},
      {"g": "dc", "t": 0.281, "v": -0.43, "lo": -0.55, "hi": -0.31}, {"g": "dc", "t": 0.296, "v": -0.37, "lo": -0.49, "hi": -0.25},
      {"g": "dc", "t": 0.309, "v": -0.49, "lo": -0.61, "hi": -0.37}, {"g": "dc", "t": 0.32, "v": -0.34, "lo": -0.44, "hi": -0.24},
      {"g": "dc", "t": 0.336, "v": -0.15, "lo": -0.23, "hi": -0.07}, {"g": "dc", "t": 0.353, "v": -0.06, "lo": -0.13, "hi": 0.01},
      {"g": "dc", "t": 0.369, "v": 0.04, "lo": -0.02, "hi": 0.1}, {"g": "dc", "t": 0.385, "v": 0.1, "lo": 0.04, "hi": 0.16},
      {"g": "dc", "t": 0.401, "v": 0.13, "lo": 0.07, "hi": 0.19}, {"g": "dc", "t": 0.417, "v": 0.19, "lo": 0.12, "hi": 0.26},
      {"g": "dc", "t": 0.43, "v": 0.26, "lo": 0.18, "hi": 0.34}, {"g": "dc", "t": 0.442, "v": 0.13, "lo": 0.06, "hi": 0.2},
      {"g": "dc", "t": 0.458, "v": 0, "lo": -0.06, "hi": 0.06}, {"g": "dc", "t": 0.474, "v": -0.02, "lo": -0.07, "hi": 0.03},
      {"g": "dc", "t": 0.49, "v": -0.09, "lo": -0.14, "hi": -0.04}, {"g": "dc", "t": 0.506, "v": -0.21, "lo": -0.27, "hi": -0.15},
      {"g": "dc", "t": 0.523, "v": -0.15, "lo": -0.21, "hi": -0.09}, {"g": "dc", "t": 0.539, "v": -0.24, "lo": -0.31, "hi": -0.17},
      {"g": "dc", "t": 0.555, "v": -0.31, "lo": -0.38, "hi": -0.24}, {"g": "dc", "t": 0.567, "v": -0.19, "lo": -0.26, "hi": -0.12},
      {"g": "dc", "t": 0.58, "v": -0.06, "lo": -0.13, "hi": 0.01}, {"g": "dc", "t": 0.592, "v": 0.26, "lo": 0.17, "hi": 0.35},
      {"g": "dc", "t": 0.604, "v": 0.41, "lo": 0.31, "hi": 0.51}, {"g": "dc", "t": 0.615, "v": 0.44, "lo": 0.34, "hi": 0.54},
      {"g": "dc", "t": 0.628, "v": 0.35, "lo": 0.25, "hi": 0.45}, {"g": "dc", "t": 0.645, "v": 0.22, "lo": 0.14, "hi": 0.3},
      {"g": "dc", "t": 0.661, "v": 0.13, "lo": 0.06, "hi": 0.2}, {"g": "dc", "t": 0.677, "v": 0, "lo": -0.08, "hi": 0.08},
      {"g": "dc", "t": 0.693, "v": -0.12, "lo": -0.22, "hi": -0.02}, {"g": "dc", "t": 0.71, "v": -0.21, "lo": -0.31, "hi": -0.11},
      {"g": "dc", "t": 0.726, "v": -0.15, "lo": -0.25, "hi": -0.05}, {"g": "dc", "t": 0.742, "v": -0.24, "lo": -0.34, "hi": -0.14},
      {"g": "dc", "t": 0.758, "v": -0.15, "lo": -0.23, "hi": -0.07}, {"g": "dc", "t": 0.774, "v": -0.19, "lo": -0.26, "hi": -0.12},
      {"g": "dc", "t": 0.791, "v": -0.12, "lo": -0.18, "hi": -0.06}, {"g": "dc", "t": 0.807, "v": -0.11, "lo": -0.16, "hi": -0.06},
      {"g": "dc", "t": 0.839, "v": -0.06, "lo": -0.11, "hi": -0.01}, {"g": "dc", "t": 0.872, "v": 0, "lo": -0.04, "hi": 0.04},
      {"g": "dc", "t": 0.904, "v": 0.02, "lo": -0.02, "hi": 0.06}, {"g": "dc", "t": 0.937, "v": 0.06, "lo": 0.02, "hi": 0.1},
      {"g": "dc", "t": 0.969, "v": 0.04, "lo": 0, "hi": 0.08}, {"g": "dc", "t": 1.0, "v": 0.06, "lo": 0.02, "hi": 0.1}
    ],
    "eBars": [
      {"g": "wt", "x": 0, "v": 3.03, "lo": 2.78, "hi": 3.28},
      {"g": "dc", "x": 1, "v": 4.39, "lo": 3.86, "hi": 4.9},
      {"g": "sal", "x": 2, "v": 1.9, "lo": 1.65, "hi": 2.15}
    ],
    "ePoints": [
      {"g": "wt", "x": 0.0, "v": 4.65}, {"g": "wt", "x": -0.02, "v": 3.6}, {"g": "wt", "x": 0.03, "v": 3.5}, {"g": "wt", "x": -0.04, "v": 3.35},
      {"g": "wt", "x": 0.02, "v": 3.2}, {"g": "wt", "x": 0.04, "v": 3.05}, {"g": "wt", "x": -0.03, "v": 2.95}, {"g": "wt", "x": 0.01, "v": 2.85},
      {"g": "wt", "x": -0.05, "v": 2.8}, {"g": "wt", "x": 0.05, "v": 2.1}, {"g": "wt", "x": -0.04, "v": 2.05}, {"g": "wt", "x": 0.0, "v": 1.75},
      {"g": "dc", "x": 1.0, "v": 6.82}, {"g": "dc", "x": 0.99, "v": 6.55}, {"g": "dc", "x": 1.0, "v": 5.5}, {"g": "dc", "x": 0.97, "v": 5.45},
      {"g": "dc", "x": 1.03, "v": 5.4}, {"g": "dc", "x": 0.98, "v": 5.35}, {"g": "dc", "x": 1.01, "v": 5.1}, {"g": "dc", "x": 1.0, "v": 3.57},
      {"g": "dc", "x": 1.0, "v": 3.19}, {"g": "dc", "x": 0.99, "v": 2.82}, {"g": "dc", "x": 1.0, "v": 1.48}, {"g": "dc", "x": 1.0, "v": 1.45},
      {"g": "sal", "x": 1.98, "v": 2.79}, {"g": "sal", "x": 2.0, "v": 2.74}, {"g": "sal", "x": 2.0, "v": 2.47}, {"g": "sal", "x": 1.97, "v": 2.3},
      {"g": "sal", "x": 2.01, "v": 2.2}, {"g": "sal", "x": 1.95, "v": 2.08}, {"g": "sal", "x": 2.02, "v": 2.0}, {"g": "sal", "x": 1.98, "v": 1.88},
      {"g": "sal", "x": 1.96, "v": 1.6}, {"g": "sal", "x": 2.0, "v": 1.62}, {"g": "sal", "x": 1.94, "v": 0.37}, {"g": "sal", "x": 2.03, "v": 0.34}
    ],
    "eBrackets": [
      {"x": 0, "x2": 1, "v": 7.09, "vlo": 7.0},
      {"x": 1, "x2": 2, "v": 7.47, "vlo": 7.38},
      {"x": 0, "x2": 2, "v": 8.08, "vlo": 7.95}
    ],
    "eNS": [{"x": 0.513, "v": 7.4, "t": "NS"}],
    "eStars": [{"x": 1.49, "v": 7.72, "t": "**"}, {"x": 0.9, "v": 8.3, "t": "*"}],
    "fBars": [
      {"g": "wt", "x": 0, "v": 0.0672, "lo": 0.0595, "hi": 0.0754},
      {"g": "dc", "x": 1, "v": 0.0846, "lo": 0.081, "hi": 0.088},
      {"g": "sal", "x": 2, "v": 0.0936, "lo": 0.0838, "hi": 0.1027}
    ],
    "fPoints": [
      {"g": "wt", "x": 0.0, "v": 0.1562}, {"g": "wt", "x": 0.0, "v": 0.0838}, {"g": "wt", "x": -0.03, "v": 0.0774}, {"g": "wt", "x": 0.04, "v": 0.0749},
      {"g": "wt", "x": -0.05, "v": 0.061}, {"g": "wt", "x": 0.03, "v": 0.06}, {"g": "wt", "x": 0.0, "v": 0.0556}, {"g": "wt", "x": -0.04, "v": 0.0538},
      {"g": "wt", "x": 0.05, "v": 0.0518}, {"g": "wt", "x": 0.0, "v": 0.048}, {"g": "wt", "x": -0.04, "v": 0.0403}, {"g": "wt", "x": 0.04, "v": 0.039},
      {"g": "dc", "x": 1.05, "v": 0.1087}, {"g": "dc", "x": 0.97, "v": 0.1056}, {"g": "dc", "x": 1.02, "v": 0.1005}, {"g": "dc", "x": 1.0, "v": 0.0959},
      {"g": "dc", "x": 1.04, "v": 0.0923}, {"g": "dc", "x": 0.96, "v": 0.0882}, {"g": "dc", "x": 1.03, "v": 0.0851}, {"g": "dc", "x": 0.97, "v": 0.082},
      {"g": "dc", "x": 1.02, "v": 0.08}, {"g": "dc", "x": 0.98, "v": 0.078}, {"g": "dc", "x": 1.0, "v": 0.0685}, {"g": "dc", "x": 1.0, "v": 0.0518},
      {"g": "sal", "x": 2.0, "v": 0.16}, {"g": "sal", "x": 2.0, "v": 0.1397}, {"g": "sal", "x": 2.0, "v": 0.1318}, {"g": "sal", "x": 2.0, "v": 0.0959},
      {"g": "sal", "x": 1.96, "v": 0.08}, {"g": "sal", "x": 2.04, "v": 0.079}, {"g": "sal", "x": 2.0, "v": 0.0749}, {"g": "sal", "x": 1.97, "v": 0.071},
      {"g": "sal", "x": 2.03, "v": 0.0672}, {"g": "sal", "x": 1.98, "v": 0.065}, {"g": "sal", "x": 2.02, "v": 0.0633}, {"g": "sal", "x": 2.0, "v": 0.078}
    ],
    "fBrackets": [
      {"x": 0, "x2": 2, "v": 0.183, "vlo": 0.1808},
      {"x": 0, "x2": 1, "v": 0.1654, "vlo": 0.1633},
      {"x": 1, "x2": 2, "v": 0.17, "vlo": 0.169}
    ],
    "fNS": [{"x": 1.49, "v": 0.176, "t": "NS"}],
    "fStars": [{"x": 0.19, "v": 0.194, "t": "*"}, {"x": 0.48, "v": 0.171, "t": "*"}],
    "xlab": [
      {"x": 0, "v": 0, "name": "AdipoR1", "sup": "+/+", "suf": ""},
      {"x": 1, "v": 0, "name": "AdipoR1", "sup": "-/-", "suf": "+DC"},
      {"x": 2, "v": 0, "name": "AdipoR1", "sup": "-/-", "suf": "+saline"}
    ]
  },
  "concat": [
    {
      "width": 248, "height": 203,
      "encoding": {
        "x": {"field": "x", "type": "quantitative", "scale": {"domain": [-0.813, 3.5], "nice": false, "zero": false, "padding": 0},
          "axis": {"values": [0, 1, 2, 3], "labelExpr": "['1','3','10','30'][datum.value]", "domain": false, "offset": 9, "tickSize": 4, "labelPadding": 9, "labelFontSize": 16, "title": "Light intensity (cd·s/m²)", "titleFontSize": 21, "titlePadding": 4}},
        "y": {"field": "y", "type": "quantitative", "scale": {"domain": [2, 14], "nice": false, "zero": false},
          "axis": {"values": [2, 4, 6, 8, 10, 12, 14], "labelExpr": "datum.value % 4 == 2 ? datum.label : ''", "offset": -18, "tickSize": 5, "labelPadding": 4, "labelFontSize": 16, "title": "Amplitude (μV)", "titleFontSize": 21, "titlePadding": 10}}
      },
      "layer": [
        {"data": {"values": [{"x": -1.7696, "x2": 4.1435, "y": 17.547, "y2": -2.847}]}, "mark": {"type": "rect", "opacity": 0}, "encoding": {"x2": {"field": "x2"}, "y2": {"field": "y2"}}},
        {"data": {"values": [{"x": -0.5, "x2": 3.5, "y": 1.468}]}, "mark": {"type": "rule", "color": "#333", "strokeWidth": 1.2}, "encoding": {"x2": {"field": "x2"}}},
        {"data": {"values": [{"x": -1.7, "y": 15.89, "label": "A"}]}, "mark": {"type": "text", "align": "left", "baseline": "alphabetic", "fontSize": 25, "fontWeight": "bold"}, "encoding": {"text": {"field": "label"}}},
        {"data": {"values": [{"x": 1.361, "y": 15.89, "label": "Photopic a-wave"}]}, "mark": {"type": "text", "align": "center", "baseline": "alphabetic", "fontSize": 21}, "encoding": {"text": {"field": "label"}}},
        {"data": {"name": "aLegend"}, "mark": {"type": "rule", "strokeWidth": 1.6}, "encoding": {"x2": {"field": "x2"}, "color": {"field": "g", "type": "nominal", "scale": {"domain": ["wt", "sal", "dc"], "range": ["#000000", "#f2254a", "#1414ff"]}, "legend": null}}},
        {"data": {"name": "aLegend"}, "mark": {"type": "text", "align": "left", "baseline": "middle", "fontSize": 19, "fontStyle": "italic"}, "encoding": {"x": {"field": "tx", "type": "quantitative"}, "text": {"field": "name"}}},
        {"data": {"name": "aLegend"}, "mark": {"type": "text", "align": "left", "baseline": "middle", "fontSize": 11, "fontStyle": "italic", "dx": 74, "dy": -7}, "encoding": {"x": {"field": "tx", "type": "quantitative"}, "text": {"field": "sup"}}},
        {"data": {"name": "aLegend"}, "mark": {"type": "text", "align": "left", "baseline": "middle", "fontSize": 19, "dx": 90}, "encoding": {"x": {"field": "tx", "type": "quantitative"}, "text": {"field": "suf"}}},
        {"data": {"name": "aLines"}, "mark": {"type": "line", "strokeWidth": 1.6}, "encoding": {"color": {"field": "g", "type": "nominal", "scale": {"domain": ["wt", "sal", "dc"], "range": ["#000000", "#f2254a", "#1414ff"]}, "legend": null}}},
        {"data": {"name": "aLines"}, "mark": {"type": "rule", "strokeWidth": 1.3}, "encoding": {"y": {"field": "lo", "type": "quantitative"}, "y2": {"field": "hi"}, "color": {"field": "g", "type": "nominal", "scale": {"domain": ["wt", "sal", "dc"], "range": ["#000000", "#f2254a", "#1414ff"]}, "legend": null}}},
        {"data": {"name": "aLines"}, "mark": {"type": "tick", "orient": "horizontal", "size": 7, "thickness": 1.3}, "encoding": {"y": {"field": "lo", "type": "quantitative"}, "color": {"field": "g", "type": "nominal", "scale": {"domain": ["wt", "sal", "dc"], "range": ["#000000", "#f2254a", "#1414ff"]}, "legend": null}}},
        {"data": {"name": "aLines"}, "mark": {"type": "tick", "orient": "horizontal", "size": 7, "thickness": 1.3}, "encoding": {"y": {"field": "hi", "type": "quantitative"}, "color": {"field": "g", "type": "nominal", "scale": {"domain": ["wt", "sal", "dc"], "range": ["#000000", "#f2254a", "#1414ff"]}, "legend": null}}}
      ]
    },
    {
      "width": 242, "height": 203,
      "encoding": {
        "x": {"field": "x", "type": "quantitative", "scale": {"domain": [-0.7087, 3.5], "nice": false, "zero": false, "padding": 0},
          "axis": {"values": [0, 1, 2, 3], "labelExpr": "['1','3','10','30'][datum.value]", "domain": false, "offset": 9, "tickSize": 4, "labelPadding": 9, "labelFontSize": 16, "title": "Light intensity (cd·s/m²)", "titleFontSize": 21, "titlePadding": 4}},
        "y": {"field": "y", "type": "quantitative", "scale": {"domain": [20, 80], "nice": false, "zero": false},
          "axis": {"values": [20, 30, 40, 50, 60, 70, 80], "labelExpr": "datum.value % 20 == 0 ? datum.label : ''", "offset": -12, "tickSize": 5, "labelPadding": 4, "labelFontSize": 16, "title": "Amplitude (μV)", "titleFontSize": 21, "titlePadding": 10}}
      },
      "layer": [
        {"data": {"values": [{"x": -1.7696, "x2": 4.0217, "y": 97.734, "y2": -4.236}]}, "mark": {"type": "rect", "opacity": 0}, "encoding": {"x2": {"field": "x2"}, "y2": {"field": "y2"}}},
        {"data": {"values": [{"x": -0.5, "x2": 3.5, "y": 17.34}]}, "mark": {"type": "rule", "color": "#333", "strokeWidth": 1.2}, "encoding": {"x2": {"field": "x2"}}},
        {"data": {"values": [{"x": -1.665, "y": 89.46, "label": "B"}]}, "mark": {"type": "text", "align": "left", "baseline": "alphabetic", "fontSize": 25, "fontWeight": "bold"}, "encoding": {"text": {"field": "label"}}},
        {"data": {"values": [{"x": 1.457, "y": 89.46, "label": "Photopic b-wave"}]}, "mark": {"type": "text", "align": "center", "baseline": "alphabetic", "fontSize": 21}, "encoding": {"text": {"field": "label"}}},
        {"data": {"name": "bBrackets"}, "mark": {"type": "rule", "color": "#a0a0a0", "strokeWidth": 1.3}, "encoding": {"y": {"field": "lo", "type": "quantitative"}, "y2": {"field": "hi"}}},
        {"data": {"name": "bBrackets"}, "mark": {"type": "rule", "color": "#a0a0a0", "strokeWidth": 1.3}, "encoding": {"x2": {"field": "xe"}, "y": {"field": "lo", "type": "quantitative"}}},
        {"data": {"name": "bBrackets"}, "mark": {"type": "rule", "color": "#a0a0a0", "strokeWidth": 1.3}, "encoding": {"x2": {"field": "xe"}, "y": {"field": "hi", "type": "quantitative"}}},
        {"data": {"name": "bLines"}, "mark": {"type": "line", "strokeWidth": 1.6}, "encoding": {"color": {"field": "g", "type": "nominal", "scale": {"domain": ["wt", "sal", "dc"], "range": ["#000000", "#f2254a", "#1414ff"]}, "legend": null}}},
        {"data": {"name": "bLines"}, "mark": {"type": "rule", "strokeWidth": 1.3}, "encoding": {"y": {"field": "lo", "type": "quantitative"}, "y2": {"field": "hi"}, "color": {"field": "g", "type": "nominal", "scale": {"domain": ["wt", "sal", "dc"], "range": ["#000000", "#f2254a", "#1414ff"]}, "legend": null}}},
        {"data": {"name": "bLines"}, "mark": {"type": "tick", "orient": "horizontal", "size": 7, "thickness": 1.3}, "encoding": {"y": {"field": "lo", "type": "quantitative"}, "color": {"field": "g", "type": "nominal", "scale": {"domain": ["wt", "sal", "dc"], "range": ["#000000", "#f2254a", "#1414ff"]}, "legend": null}}},
        {"data": {"name": "bLines"}, "mark": {"type": "tick", "orient": "horizontal", "size": 7, "thickness": 1.3}, "encoding": {"y": {"field": "hi", "type": "quantitative"}, "color": {"field": "g", "type": "nominal", "scale": {"domain": ["wt", "sal", "dc"], "range": ["#000000", "#f2254a", "#1414ff"]}, "legend": null}}},
        {"data": {"name": "bNS"}, "mark": {"type": "text", "align": "center", "baseline": "middle", "fontSize": 16}, "encoding": {"text": {"field": "t"}}},
        {"data": {"name": "bStars"}, "mark": {"type": "text", "align": "center", "baseline": "alphabetic", "fontSize": 24, "fontWeight": "bold", "dy": 13}, "encoding": {"text": {"field": "t"}}}
      ]
    },
    {
      "width": 266, "height": 214,
      "encoding": {
        "x": {"field": "t", "type": "quantitative", "scale": {"domain": [-0.3, 1], "nice": false, "zero": false, "padding": 0},
          "axis": {"values": [-0.2, 0, 0.2, 0.4, 0.6, 0.8, 1], "format": "~g", "labelExpr": "replace(datum.label, '−', '-')", "tickSize": -4, "labelPadding": 8, "labelFontSize": 18, "title": "Time (s)", "titleFontSize": 21, "titlePadding": 4}},
        "y": {"field": "v", "type": "quantitative", "scale": {"domain": [-5.5, 2.18], "nice": false, "zero": false},
          "axis": {"values": [-5, -4, -3, -2, -1, 0, 1, 2], "format": "~g", "labelExpr": "datum.value % 2 == 0 ? replace(datum.label, '−', '-') : ''", "domain": false, "tickSize": -4, "labelPadding": 5, "labelFontSize": 18, "title": "Normalized amplitude (μV)", "titleFontSize": 21, "titlePadding": 3}}
      },
      "layer": [
        {"data": {"values": [{"t": -0.5688, "t2": 1.0929, "v": 4.8357, "v2": -7.9042}]}, "mark": {"type": "rect", "opacity": 0}, "encoding": {"x2": {"field": "t2"}, "y2": {"field": "v2"}}},
        {"data": {"values": [{"t": 0, "t2": 0.5, "v": -5.5, "v2": 2}]}, "mark": {"type": "rect", "color": "#dcdcdf"}, "encoding": {"x2": {"field": "t2"}, "y2": {"field": "v2"}}},
        {"data": {"values": [{"t": -0.3, "v": -5.5, "v2": 2}]}, "mark": {"type": "rule", "color": "#333", "strokeWidth": 1.2}, "encoding": {"y2": {"field": "v2"}}},
        {"data": {"values": [{"t": -0.505, "v": 3.4, "label": "C"}]}, "mark": {"type": "text", "align": "left", "baseline": "alphabetic", "fontSize": 25, "fontWeight": "bold"}, "encoding": {"text": {"field": "label"}}},
        {"data": {"values": [{"t": 0.36, "v": 3.4, "label": "VEP - Single mouse example"}]}, "mark": {"type": "text", "align": "center", "baseline": "alphabetic", "fontSize": 21}, "encoding": {"text": {"field": "label"}}},
        {"data": {"name": "cTraces"}, "mark": {"type": "line", "strokeWidth": 1.3}, "encoding": {"color": {"field": "g", "type": "nominal", "scale": {"domain": ["wt", "sal", "dc"], "range": ["#000000", "#f2254a", "#1414ff"]}, "legend": null}}},
        {"data": {"name": "cLegend"}, "mark": {"type": "rule", "strokeWidth": 1.6}, "encoding": {"x2": {"field": "t2"}, "color": {"field": "g", "type": "nominal", "scale": {"domain": ["wt", "sal", "dc"], "range": ["#000000", "#f2254a", "#1414ff"]}, "legend": null}}},
        {"data": {"name": "cLegend"}, "mark": {"type": "text", "align": "left", "baseline": "middle", "fontSize": 18, "fontStyle": "italic"}, "encoding": {"x": {"field": "tx", "type": "quantitative"}, "text": {"field": "name"}}},
        {"data": {"name": "cLegend"}, "mark": {"type": "text", "align": "left", "baseline": "middle", "fontSize": 11, "fontStyle": "italic", "dx": 70, "dy": -7}, "encoding": {"x": {"field": "tx", "type": "quantitative"}, "text": {"field": "sup"}}},
        {"data": {"name": "cLegend"}, "mark": {"type": "text", "align": "left", "baseline": "middle", "fontSize": 18, "dx": 87}, "encoding": {"x": {"field": "tx", "type": "quantitative"}, "text": {"field": "suf"}}}
      ]
    },
    {
      "width": 267, "height": 214,
      "encoding": {
        "x": {"field": "t", "type": "quantitative", "scale": {"domain": [-0.3, 1], "nice": false, "zero": false, "padding": 0},
          "axis": {"values": [-0.2, 0, 0.2, 0.4, 0.6, 0.8, 1], "format": "~g", "labelExpr": "replace(datum.label, '−', '-')", "tickSize": -4, "labelPadding": 8, "labelFontSize": 18, "title": "Time (s)", "titleFontSize": 21, "titlePadding": 4}},
        "y": {"field": "v", "type": "quantitative", "scale": {"domain": [-2.65, 1.35], "nice": false, "zero": false},
          "axis": {"values": [-2.5, -2, -1.5, -1, -0.5, 0, 0.5, 1], "format": "~g", "labelExpr": "datum.value % 1 == 0 ? replace(datum.label, '−', '-') : ''", "tickSize": -4, "labelPadding": 5, "labelFontSize": 18, "title": "Normalized amplitude (μV)", "titleFontSize": 21, "titlePadding": 3}}
      },
      "layer": [
        {"data": {"values": [{"t": -0.597, "t2": 1.0244, "v": 2.7332, "v2": -3.9023}]}, "mark": {"type": "rect", "opacity": 0}, "encoding": {"x2": {"field": "t2"}, "y2": {"field": "v2"}}},
        {"data": {"values": [{"t": 0, "t2": 0.5, "v": -2.65, "v2": 1.35}]}, "mark": {"type": "rect", "color": "#dcdcdf"}, "encoding": {"x2": {"field": "t2"}, "y2": {"field": "v2"}}},
        {"data": {"values": [{"t": -0.534, "v": 1.986, "label": "D"}]}, "mark": {"type": "text", "align": "left", "baseline": "alphabetic", "fontSize": 25, "fontWeight": "bold"}, "encoding": {"text": {"field": "label"}}},
        {"data": {"values": [{"t": 0.355, "v": 1.986, "label": "VEP - Population average"}]}, "mark": {"type": "text", "align": "center", "baseline": "alphabetic", "fontSize": 21}, "encoding": {"text": {"field": "label"}}},
        {"data": {"name": "dTraces"}, "mark": {"type": "area", "opacity": 0.35}, "encoding": {"y": {"field": "lo", "type": "quantitative"}, "y2": {"field": "hi"}, "color": {"field": "g", "type": "nominal", "scale": {"domain": ["wt", "sal", "dc"], "range": ["#000000", "#f2254a", "#1414ff"]}, "legend": null}}},
        {"data": {"name": "dTraces"}, "mark": {"type": "line", "strokeWidth": 1.4}, "encoding": {"color": {"field": "g", "type": "nominal", "scale": {"domain": ["wt", "sal", "dc"], "range": ["#000000", "#f2254a", "#1414ff"]}, "legend": null}}},
        {"data": {"name": "dLegend"}, "mark": {"type": "rule", "strokeWidth": 1.6}, "encoding": {"x2": {"field": "t2"}, "color": {"field": "g", "type": "nominal", "scale": {"domain": ["wt", "sal", "dc"], "range": ["#000000", "#f2254a", "#1414ff"]}, "legend": null}}},
        {"data": {"name": "dLegend"}, "mark": {"type": "text", "align": "left", "baseline": "middle", "fontSize": 19, "fontStyle": "italic"}, "encoding": {"x": {"field": "tx", "type": "quantitative"}, "text": {"field": "a"}}},
        {"data": {"name": "dLegend"}, "mark": {"type": "text", "align": "left", "baseline": "middle", "fontSize": 19, "dx": 11}, "encoding": {"x": {"field": "tx", "type": "quantitative"}, "text": {"field": "b"}}},
        {"data": {"name": "dLegend"}, "mark": {"type": "text", "align": "left", "baseline": "middle", "fontSize": 19, "fontStyle": "italic", "dx": 43.5}, "encoding": {"x": {"field": "tx", "type": "quantitative"}, "text": {"field": "c"}}},
        {"data": {"name": "dLegend"}, "mark": {"type": "text", "align": "left", "baseline": "middle", "fontSize": 19, "dx": 57.5}, "encoding": {"x": {"field": "tx", "type": "quantitative"}, "text": {"field": "d"}}}
      ]
    },
    {
      "width": 213, "height": 234,
      "encoding": {
        "x": {"field": "x", "type": "quantitative", "scale": {"domain": [-3.09, 3.2], "nice": false, "zero": false, "padding": 0},
          "axis": {"ticks": false, "labels": false, "domain": false, "title": null}},
        "y": {"field": "v", "type": "quantitative", "scale": {"domain": [0, 7.5], "nice": false, "zero": false},
          "axis": {"values": [0, 1, 2, 3, 4, 5, 6, 7], "labelExpr": "datum.value % 2 == 0 ? datum.label : ''", "domain": false, "offset": -64, "tickSize": -5, "labelPadding": 6, "labelFontSize": 20, "title": "Normalized amplitude (μV)", "titleFontSize": 21, "titlePadding": 24}}
      },
      "layer": [
        {"data": {"values": [{"x": -4.7141, "x2": 5.3262, "v": 9.7436, "v2": -4.5192}]}, "mark": {"type": "rect", "opacity": 0}, "encoding": {"x2": {"field": "x2"}, "y2": {"field": "v2"}}},
        {"data": {"values": [{"x": -2.854, "v": 8.49, "label": "E"}]}, "mark": {"type": "text", "align": "left", "baseline": "alphabetic", "fontSize": 25, "fontWeight": "bold"}, "encoding": {"text": {"field": "label"}}},
        {"data": {"name": "eBars"}, "mark": {"type": "bar", "size": 27, "strokeWidth": 1.2}, "encoding": {"fill": {"field": "g", "type": "nominal", "scale": {"domain": ["wt", "dc", "sal"], "range": ["#ffffff", "#8a92c8", "#f4987a"]}, "legend": null}, "stroke": {"condition": {"test": "datum.g === 'wt'", "value": "#000000"}, "value": "transparent"}}},
        {"data": {"values": [{"x": -1.2, "v": 0, "v2": 7}]}, "mark": {"type": "rule", "color": "#333", "strokeWidth": 1.2}, "encoding": {"y2": {"field": "v2"}}},
        {"data": {"values": [{"x": -1.2, "x2": 3.2, "v": 0}]}, "mark": {"type": "rule", "color": "#333", "strokeWidth": 1.2}, "encoding": {"x2": {"field": "x2"}}},
        {"data": {"name": "ePoints"}, "mark": {"type": "point", "shape": "circle", "filled": false, "size": 30, "strokeWidth": 1.1}, "encoding": {"color": {"field": "g", "type": "nominal", "scale": {"domain": ["wt", "sal", "dc"], "range": ["#000000", "#f2254a", "#1414ff"]}, "legend": null}}},
        {"data": {"name": "eBars"}, "mark": {"type": "rule", "color": "#222", "strokeWidth": 1.2}, "encoding": {"y": {"field": "lo", "type": "quantitative"}, "y2": {"field": "hi"}}},
        {"data": {"name": "eBars"}, "mark": {"type": "tick", "orient": "horizontal", "size": 8, "thickness": 1.2, "color": "#222"}, "encoding": {"y": {"field": "lo", "type": "quantitative"}}},
        {"data": {"name": "eBars"}, "mark": {"type": "tick", "orient": "horizontal", "size": 8, "thickness": 1.2, "color": "#222"}, "encoding": {"y": {"field": "hi", "type": "quantitative"}}},
        {"data": {"name": "eBrackets"}, "mark": {"type": "rule", "color": "#333", "strokeWidth": 1.2}, "encoding": {"x2": {"field": "x2"}}},
        {"data": {"name": "eBrackets"}, "mark": {"type": "rule", "color": "#333", "strokeWidth": 1.2}, "encoding": {"y": {"field": "vlo", "type": "quantitative"}, "y2": {"field": "v"}}},
        {"data": {"name": "eBrackets"}, "mark": {"type": "rule", "color": "#333", "strokeWidth": 1.2}, "encoding": {"x": {"field": "x2", "type": "quantitative"}, "y": {"field": "vlo", "type": "quantitative"}, "y2": {"field": "v"}}},
        {"data": {"name": "eNS"}, "mark": {"type": "text", "align": "center", "baseline": "middle", "fontSize": 16}, "encoding": {"text": {"field": "t"}}},
        {"data": {"name": "eStars"}, "mark": {"type": "text", "align": "center", "baseline": "alphabetic", "fontSize": 24, "fontWeight": "bold", "dy": 13}, "encoding": {"text": {"field": "t"}}},
        {"data": {"name": "xlab"}, "transform": [{"filter": "datum.x == 0"}], "mark": {"type": "text", "angle": -45, "align": "right", "baseline": "alphabetic", "fontSize": 21, "fontStyle": "italic", "dx": -23.1, "dy": 16}, "encoding": {"text": {"field": "name"}}},
        {"data": {"name": "xlab"}, "transform": [{"filter": "datum.x == 1"}], "mark": {"type": "text", "angle": -45, "align": "right", "baseline": "alphabetic", "fontSize": 21, "fontStyle": "italic", "dx": -65.2, "dy": 16}, "encoding": {"text": {"field": "name"}}},
        {"data": {"name": "xlab"}, "transform": [{"filter": "datum.x == 2"}], "mark": {"type": "text", "angle": -45, "align": "right", "baseline": "alphabetic", "fontSize": 21, "fontStyle": "italic", "dx": -89.7, "dy": 16}, "encoding": {"text": {"field": "name"}}},
        {"data": {"name": "xlab"}, "transform": [{"filter": "datum.x == 0"}], "mark": {"type": "text", "angle": -45, "align": "right", "baseline": "alphabetic", "fontSize": 12.5, "dx": -4, "dy": 8}, "encoding": {"text": {"field": "sup"}}},
        {"data": {"name": "xlab"}, "transform": [{"filter": "datum.x == 1"}], "mark": {"type": "text", "angle": -45, "align": "right", "baseline": "alphabetic", "fontSize": 12.5, "dx": -52.4, "dy": 8}, "encoding": {"text": {"field": "sup"}}},
        {"data": {"name": "xlab"}, "transform": [{"filter": "datum.x == 2"}], "mark": {"type": "text", "angle": -45, "align": "right", "baseline": "alphabetic", "fontSize": 12.5, "dx": -76.9, "dy": 8}, "encoding": {"text": {"field": "sup"}}},
        {"data": {"name": "xlab"}, "transform": [{"filter": "datum.x > 0"}], "mark": {"type": "text", "angle": -45, "align": "right", "baseline": "alphabetic", "fontSize": 21, "dx": -4, "dy": 16}, "encoding": {"text": {"field": "suf"}}}
      ]
    },
    {
      "width": 214, "height": 234,
      "encoding": {
        "x": {"field": "x", "type": "quantitative", "scale": {"domain": [-3.1194, 3.2], "nice": false, "zero": false, "padding": 0},
          "axis": {"ticks": false, "labels": false, "domain": false, "title": null}},
        "y": {"field": "v", "type": "quantitative", "scale": {"domain": [0, 0.18], "nice": false, "zero": false},
          "axis": {"values": [0, 0.02, 0.04, 0.06, 0.08, 0.1, 0.12, 0.14, 0.16, 0.18], "labelExpr": "round(datum.value * 100) % 4 == 0 ? (datum.value == 0 ? '0' : format(datum.value, '.2f')) : ''", "offset": -65, "tickSize": -5, "labelPadding": 6, "labelFontSize": 20, "title": "Response latency (ms)", "titleFontSize": 21, "titlePadding": 28}}
      },
      "layer": [
        {"data": {"values": [{"x": -4.9208, "x2": 4.9128, "v": 0.23385, "v2": -0.28846}]}, "mark": {"type": "rect", "opacity": 0}, "encoding": {"x2": {"field": "x2"}, "y2": {"field": "v2"}}},
        {"data": {"values": [{"x": -3.651, "v": 0.2054, "label": "F"}]}, "mark": {"type": "text", "align": "left", "baseline": "alphabetic", "fontSize": 25, "fontWeight": "bold"}, "encoding": {"text": {"field": "label"}}},
        {"data": {"name": "fBars"}, "mark": {"type": "bar", "size": 27, "strokeWidth": 1.2}, "encoding": {"fill": {"field": "g", "type": "nominal", "scale": {"domain": ["wt", "dc", "sal"], "range": ["#ffffff", "#8a92c8", "#f4987a"]}, "legend": null}, "stroke": {"condition": {"test": "datum.g === 'wt'", "value": "#000000"}, "value": "transparent"}}},
        {"data": {"values": [{"x": -1.2, "x2": 3.2, "v": 0}]}, "mark": {"type": "rule", "color": "#333", "strokeWidth": 1.2}, "encoding": {"x2": {"field": "x2"}}},
        {"data": {"name": "fPoints"}, "mark": {"type": "point", "shape": "circle", "filled": false, "size": 30, "strokeWidth": 1.1}, "encoding": {"color": {"field": "g", "type": "nominal", "scale": {"domain": ["wt", "sal", "dc"], "range": ["#000000", "#f2254a", "#1414ff"]}, "legend": null}}},
        {"data": {"name": "fBars"}, "mark": {"type": "rule", "color": "#222", "strokeWidth": 1.2}, "encoding": {"y": {"field": "lo", "type": "quantitative"}, "y2": {"field": "hi"}}},
        {"data": {"name": "fBars"}, "mark": {"type": "tick", "orient": "horizontal", "size": 8, "thickness": 1.2, "color": "#222"}, "encoding": {"y": {"field": "lo", "type": "quantitative"}}},
        {"data": {"name": "fBars"}, "mark": {"type": "tick", "orient": "horizontal", "size": 8, "thickness": 1.2, "color": "#222"}, "encoding": {"y": {"field": "hi", "type": "quantitative"}}},
        {"data": {"name": "fBrackets"}, "mark": {"type": "rule", "color": "#333", "strokeWidth": 1.2}, "encoding": {"x2": {"field": "x2"}}},
        {"data": {"name": "fBrackets"}, "mark": {"type": "rule", "color": "#333", "strokeWidth": 1.2}, "encoding": {"y": {"field": "vlo", "type": "quantitative"}, "y2": {"field": "v"}}},
        {"data": {"name": "fBrackets"}, "mark": {"type": "rule", "color": "#333", "strokeWidth": 1.2}, "encoding": {"x": {"field": "x2", "type": "quantitative"}, "y": {"field": "vlo", "type": "quantitative"}, "y2": {"field": "v"}}},
        {"data": {"name": "fNS"}, "mark": {"type": "text", "align": "center", "baseline": "middle", "fontSize": 16}, "encoding": {"text": {"field": "t"}}},
        {"data": {"name": "fStars"}, "mark": {"type": "text", "align": "center", "baseline": "alphabetic", "fontSize": 24, "fontWeight": "bold", "dy": 13}, "encoding": {"text": {"field": "t"}}},
        {"data": {"name": "xlab"}, "transform": [{"filter": "datum.x == 0"}], "mark": {"type": "text", "angle": -45, "align": "right", "baseline": "alphabetic", "fontSize": 21, "fontStyle": "italic", "dx": -23.1, "dy": 16}, "encoding": {"text": {"field": "name"}}},
        {"data": {"name": "xlab"}, "transform": [{"filter": "datum.x == 1"}], "mark": {"type": "text", "angle": -45, "align": "right", "baseline": "alphabetic", "fontSize": 21, "fontStyle": "italic", "dx": -65.2, "dy": 16}, "encoding": {"text": {"field": "name"}}},
        {"data": {"name": "xlab"}, "transform": [{"filter": "datum.x == 2"}], "mark": {"type": "text", "angle": -45, "align": "right", "baseline": "alphabetic", "fontSize": 21, "fontStyle": "italic", "dx": -89.7, "dy": 16}, "encoding": {"text": {"field": "name"}}},
        {"data": {"name": "xlab"}, "transform": [{"filter": "datum.x == 0"}], "mark": {"type": "text", "angle": -45, "align": "right", "baseline": "alphabetic", "fontSize": 12.5, "dx": -4, "dy": 8}, "encoding": {"text": {"field": "sup"}}},
        {"data": {"name": "xlab"}, "transform": [{"filter": "datum.x == 1"}], "mark": {"type": "text", "angle": -45, "align": "right", "baseline": "alphabetic", "fontSize": 12.5, "dx": -52.4, "dy": 8}, "encoding": {"text": {"field": "sup"}}},
        {"data": {"name": "xlab"}, "transform": [{"filter": "datum.x == 2"}], "mark": {"type": "text", "angle": -45, "align": "right", "baseline": "alphabetic", "fontSize": 12.5, "dx": -76.9, "dy": 8}, "encoding": {"text": {"field": "sup"}}},
        {"data": {"name": "xlab"}, "transform": [{"filter": "datum.x > 0"}], "mark": {"type": "text", "angle": -45, "align": "right", "baseline": "alphabetic", "fontSize": 21, "dx": -4, "dy": 16}, "encoding": {"text": {"field": "suf"}}}
      ]
    }
  ]
}
